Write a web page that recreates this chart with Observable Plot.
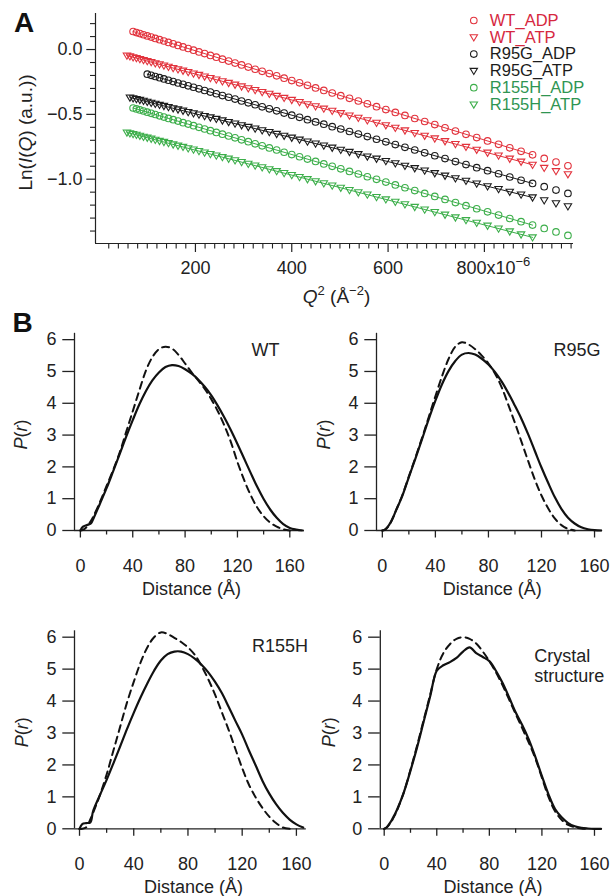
<!DOCTYPE html>
<html><head><meta charset="utf-8">
<script src="https://cdn.jsdelivr.net/npm/d3@7"></script>
<script src="https://cdn.jsdelivr.net/npm/@observablehq/plot@0.6"></script>
<style>
body{margin:0;background:#fff}
#fig{position:relative;width:610px;height:896px;background:#fff;overflow:hidden}
#fig svg{position:absolute}
</style>
</head><body><div id="fig"></div>
<script>
// ---------- Panel A data: Guinier plot ----------
const q2 = [57.76,64,70.56,77.44,84.64,92.16,100,108.16,116.64,125.44,134.56,144,153.76,163.84,174.24,184.96,196,207.36,219.04,231.04,243.36,256,268.96,282.24,295.84,309.76,324,338.56,353.44,368.64,384.16,400,416.16,432.64,449.44,466.56,484,501.76,519.84,538.24,556.96,576,595.36,615.04,635.04,655.36,676,696.96,718.24,739.84,761.76,784,806.56,829.44,852.64,876.16,900,924.16,948.64,973.44];
const wtADP = [null,null,0.139,0.131,0.123,0.114,0.105,0.096,0.086,0.076,0.066,0.055,0.044,0.032,0.020,0.008,-0.005,-0.018,-0.031,-0.045,-0.059,-0.074,-0.089,-0.104,-0.119,-0.135,-0.152,-0.168,-0.185,-0.203,-0.221,-0.239,-0.257,-0.276,-0.296,-0.315,-0.335,-0.356,-0.376,-0.397,-0.419,-0.441,-0.463,-0.485,-0.508,-0.532,-0.555,-0.579,-0.604,-0.629,-0.654,-0.679,-0.705,-0.731,-0.758,-0.785,-0.812,-0.840,-0.868,-0.897];
const wtATP = [-0.047,-0.053,-0.060,-0.066,-0.074,-0.081,-0.089,-0.097,-0.106,-0.114,-0.124,-0.133,-0.143,-0.153,-0.163,-0.174,-0.185,-0.196,-0.208,-0.220,-0.232,-0.245,-0.258,-0.271,-0.285,-0.299,-0.313,-0.328,-0.342,-0.358,-0.373,-0.389,-0.405,-0.422,-0.438,-0.456,-0.473,-0.491,-0.509,-0.527,-0.546,-0.565,-0.584,-0.604,-0.624,-0.644,-0.665,-0.686,-0.707,-0.729,-0.751,-0.773,-0.796,-0.818,-0.842,-0.865,-0.889,-0.913,-0.938,-0.962];
const r95gADP = [null,null,null,null,null,null,-0.190,-0.199,-0.208,-0.217,-0.227,-0.237,-0.247,-0.258,-0.268,-0.280,-0.291,-0.303,-0.316,-0.328,-0.341,-0.355,-0.368,-0.382,-0.397,-0.411,-0.426,-0.442,-0.457,-0.473,-0.490,-0.506,-0.523,-0.541,-0.558,-0.576,-0.595,-0.613,-0.632,-0.652,-0.671,-0.692,-0.712,-0.733,-0.754,-0.775,-0.797,-0.819,-0.841,-0.864,-0.887,-0.911,-0.934,-0.958,-0.983,-1.008,-1.033,-1.058,-1.084,-1.110];
const r95gATP = [null,-0.370,-0.376,-0.382,-0.389,-0.396,-0.403,-0.411,-0.419,-0.427,-0.435,-0.444,-0.453,-0.462,-0.472,-0.482,-0.492,-0.502,-0.513,-0.524,-0.535,-0.547,-0.559,-0.571,-0.584,-0.597,-0.610,-0.623,-0.637,-0.651,-0.665,-0.680,-0.695,-0.710,-0.725,-0.741,-0.757,-0.774,-0.790,-0.807,-0.825,-0.842,-0.860,-0.878,-0.897,-0.915,-0.934,-0.954,-0.973,-0.993,-1.013,-1.034,-1.055,-1.076,-1.097,-1.119,-1.141,-1.163,-1.186,-1.209];
const r155hADP = [null,null,-0.451,-0.458,-0.466,-0.474,-0.483,-0.492,-0.501,-0.511,-0.521,-0.531,-0.541,-0.552,-0.564,-0.575,-0.587,-0.600,-0.613,-0.626,-0.639,-0.653,-0.667,-0.681,-0.696,-0.711,-0.727,-0.743,-0.759,-0.775,-0.792,-0.810,-0.827,-0.845,-0.863,-0.882,-0.901,-0.920,-0.940,-0.960,-0.981,-1.001,-1.022,-1.044,-1.066,-1.088,-1.110,-1.133,-1.156,-1.180,-1.204,-1.228,-1.252,-1.277,-1.303,-1.328,-1.354,-1.380,-1.407,-1.434];
const r155hATP = [-0.640,-0.646,-0.652,-0.658,-0.665,-0.673,-0.680,-0.688,-0.696,-0.705,-0.713,-0.722,-0.732,-0.742,-0.751,-0.762,-0.772,-0.783,-0.795,-0.806,-0.818,-0.830,-0.842,-0.855,-0.868,-0.882,-0.895,-0.909,-0.924,-0.938,-0.953,-0.968,-0.984,-1.000,-1.016,-1.032,-1.049,-1.066,-1.084,-1.101,-1.119,-1.138,-1.156,-1.175,-1.194,-1.214,-1.234,-1.254,-1.274,-1.295,-1.316,-1.337,-1.359,-1.381,-1.403,-1.426,-1.449,null,null,null];
const seriesNames = ["WT_ADP","WT_ATP","R95G_ADP","R95G_ATP","R155H_ADP","R155H_ATP"];
const fitMaxQ2 = 900;
const xTicksA = [200,400,600,800];
const xMinorA = [20,40,60,80,100,120,140,160,180,220,240,260,280,300,320,340,360,380,420,440,460,480,500,520,540,560,580,620,640,660,680,700,720,740,760,780,820,840,860,880,900,920,940,960,980];
const yTicksA = [0,-0.5,-1];
const yMinorA = [0.2,0.1,-0.1,-0.2,-0.3,-0.4,-0.6,-0.7,-0.8,-0.9,-1.1,-1.2,-1.3,-1.4];
const xDomA = [-7.5, 985];
const yDomA = [-1.496, 0.278];

// ---------- Panel B data: P(r) ----------
const rB = [0,2,5,8,10,15,20,25,30,35,40,45,50,55,60,65,70,75,80,85,90,95,100,105,110,115,120,125,130,135,140,145,150,155,160,165,170];
const wtExp   = [0,0.12,0.17,0.22,0.38,0.85,1.33,1.86,2.40,2.95,3.47,3.96,4.38,4.72,4.97,5.14,5.20,5.17,5.07,4.93,4.75,4.52,4.25,3.92,3.55,3.15,2.72,2.27,1.82,1.38,0.99,0.66,0.40,0.20,0.08,0.03,0];
const wtModel = [0,0.02,0.12,0.30,0.45,0.90,1.40,1.90,2.45,3.10,3.75,4.40,5.02,5.45,5.70,5.78,5.72,5.52,5.25,4.97,4.72,4.45,4.13,3.75,3.30,2.78,2.15,1.60,1.12,0.73,0.45,0.25,0.12,0.04,0,null,null];
const r95gExp   = [0,0.03,0.17,0.40,0.60,1.08,1.68,2.27,2.88,3.50,4.08,4.60,5.02,5.33,5.53,5.58,5.53,5.40,5.22,4.98,4.68,4.32,3.92,3.50,3.02,2.50,1.98,1.50,1.05,0.68,0.40,0.22,0.10,0.04,0.01,0,null];
const r95gModel = [0,0.03,0.15,0.40,0.60,1.10,1.70,2.30,2.92,3.57,4.22,4.85,5.40,5.78,5.92,5.85,5.70,5.50,5.25,4.93,4.50,3.95,3.38,2.78,2.18,1.60,1.10,0.70,0.38,0.17,0.05,0,null,null,null,null,null];
const r155hExp   = [0,0.15,0.18,0.20,0.55,1.05,1.53,2.05,2.58,3.12,3.63,4.11,4.55,4.95,5.27,5.47,5.55,5.55,5.47,5.33,5.14,4.90,4.60,4.25,3.82,3.38,2.95,2.45,1.98,1.50,1.10,0.77,0.50,0.29,0.14,0.04,null];
const r155hModel = [0,0,0.05,0.30,0.50,1.05,1.70,2.45,3.20,3.95,4.60,5.20,5.68,6.00,6.15,6.10,5.98,5.85,5.68,5.45,5.10,4.68,4.20,3.65,3.10,2.50,1.90,1.38,0.98,0.65,0.38,0.18,0.04,0,null,null,null];
const crystalExp   = [0,0.05,0.22,0.45,0.62,1.15,1.82,2.55,3.35,4.15,4.95,5.12,5.22,5.35,5.55,5.68,5.50,5.38,5.25,4.95,4.57,4.12,3.65,3.25,2.80,2.25,1.65,1.08,0.62,0.36,0.18,0.08,0.03,0.01,0,0,null];
const crystalModel = [0,0.05,0.20,0.42,0.60,1.15,1.85,2.60,3.40,4.20,5.00,5.50,5.78,5.95,6.00,5.95,5.80,5.55,5.25,4.90,4.50,4.05,3.60,3.15,2.70,2.20,1.60,1.00,0.55,0.28,0.12,0.05,0.01,0,null,null,null];
const panelNames = ["WT","R95G","R155H","Crystal\nstructure"];
const xTicksB = [0,40,80,120,160];
const xMinorB = [20,60,100,140];
const yTicksB = [0,1,2,3,4,5,6];
const yDomB = [0, 6.2];

// ---------- styling ----------
const RED = "#e2323c", RED_T = "#d6283f";
const GREEN = "#3cae4a", GREEN_T = "#2f9552";
const BLACK = "#1c1c1c";
const FONT = "'Liberation Sans', Arial, Helvetica, sans-serif";
const INK = "#222";
const triDown = {
  draw(ctx, size) {
    const r = Math.sqrt(size / Math.PI);
    ctx.moveTo(-r * 1.12, -r * 0.78);
    ctx.lineTo(r * 1.12, -r * 0.78);
    ctx.lineTo(0, r * 1.1);
    ctx.closePath();
  }
};
const seriesValues = [wtADP, wtATP, r95gADP, r95gATP, r155hADP, r155hATP];
const seriesColor = [RED, RED, BLACK, BLACK, GREEN, GREEN];
const seriesTextColor = [RED_T, RED_T, BLACK, BLACK, GREEN_T, GREEN_T];
const seriesSymbol = ["circle", triDown, "circle", triDown, "circle", triDown];

const NS = "http://www.w3.org/2000/svg";
function rich(svg, plain, parts, extra) {
  svg.querySelectorAll("text").forEach(t => {
    if (t.textContent !== plain) return;
    while (t.firstChild) t.removeChild(t.firstChild);
    let shift = 0;
    parts.forEach(p => {
      const ts = document.createElementNS(NS, "tspan");
      ts.textContent = p.t;
      if (p.i) ts.setAttribute("font-style", "italic");
      if (p.fs) ts.setAttribute("font-size", p.fs);
      const target = p.sup ? -p.sup : 0;
      if (target !== shift) { ts.setAttribute("dy", (target - shift) + "px"); shift = target; }
      t.appendChild(ts);
    });
    if (extra) extra(t);
  });
}

const fig = document.getElementById("fig");

// ---------- Panel A ----------
{
  const marks = [];
  seriesNames.forEach((name, k) => {
    const rows = q2.map((q, i) => ({q, y: seriesValues[k][i]})).filter(d => d.y != null);
    marks.push(Plot.dot(rows, {x: "q", y: "y", r: 3.3, stroke: seriesColor[k], strokeWidth: 1.1, fill: "none", symbol: seriesSymbol[k]}));
    marks.push(Plot.linearRegressionY(rows.filter(d => d.q <= fitMaxQ2), {x: "q", y: "y", stroke: seriesColor[k], strokeWidth: 1, ci: 0}));
    marks.push(Plot.dot([name], {frameAnchor: "top-right", dx: -99.7, dy: 7 + k * 16.8, r: 3.3, stroke: seriesColor[k], strokeWidth: 1.1, fill: "none", symbol: seriesSymbol[k]}));
    marks.push(Plot.text([name], {frameAnchor: "top-right", dx: -83.7, dy: 7 + k * 16.8, text: d => d, fill: seriesTextColor[k], textAnchor: "start", lineAnchor: "middle", fontSize: 16.5}));
  });
  const svg = Plot.plot({
    width: 610, height: 310,
    marginLeft: 95, marginRight: 37, marginTop: 13, marginBottom: 67,
    style: {fontFamily: FONT, fontSize: "18px", color: INK, background: "transparent", overflow: "visible"},
    x: {domain: xDomA},
    y: {domain: yDomA},
    marks: [
      Plot.ruleX([xDomA[0]], {stroke: INK, strokeWidth: 1.2}),
      Plot.ruleY([yDomA[0]], {stroke: INK, strokeWidth: 1.2}),
      Plot.axisX(xMinorA, {tickSize: 5.5, tickFormat: () => "", label: null, strokeWidth: 1.1}),
      Plot.axisX(xTicksA, {tickSize: 9, tickPadding: 9, label: null, strokeWidth: 1.2, tickFormat: d => d === 800 ? "800x10−6" : String(d)}),
      Plot.axisY(yMinorA, {tickSize: 5, tickFormat: () => "", label: null, strokeWidth: 1.1}),
      Plot.axisY(yTicksA, {tickSize: 8.7, tickPadding: 4.3, label: null, strokeWidth: 1.2, tickFormat: d3.format(".1f")}),
      ...marks,
      Plot.text(["A"], {frameAnchor: "top-left", dx: -71.5, dy: 10, text: d => d, textAnchor: "middle", lineAnchor: "middle", fontSize: 28, fontWeight: "bold", fill: "#111"}),
      Plot.text(["Ln(I(Q) (a.u.))"], {frameAnchor: "left", rotate: -90, dx: -70, dy: 4, text: d => d, textAnchor: "middle", lineAnchor: "middle", fontSize: 19}),
      Plot.text(["Q2 (Å−2)"], {frameAnchor: "bottom", dx: 2, dy: 53, text: d => d, textAnchor: "middle", lineAnchor: "middle", fontSize: 19})
    ]
  });
  svg.style.left = "0px"; svg.style.top = "0px";
  rich(svg, "Ln(I(Q) (a.u.))", [{t: "Ln("}, {t: "I", i: 1}, {t: "("}, {t: "Q", i: 1}, {t: ") (a.u.))"}]);
  rich(svg, "Q2 (Å−2)", [{t: "Q", i: 1}, {t: "2", sup: 8, fs: "13px"}, {t: " (Å"}, {t: "−2", sup: 8, fs: "13px"}, {t: ")"}]);
  rich(svg, "800x10−6", [{t: "800x10"}, {t: "−6", sup: 8, fs: "13px"}], t => t.setAttribute("x", "9"));
  fig.appendChild(svg);
}

// ---------- Panel B ----------
const panelCfg = [
  {exp: wtExp, model: wtModel, left: 0, top: 300, w: 305, h: 300, mL: 74, mR: 3, mT: 32.8, mB: 70, xDom: [-4.5, 169.7], titleDx: -37, titleDy: 16.7, anchor: "middle", pdx: -53, pdy: 2.5, ddx: 3, ddy: 59, tag: "B"},
  {exp: r95gExp, model: r95gModel, left: 305, top: 300, w: 305, h: 300, mL: 71, mR: 8, mT: 32.8, mB: 70, xDom: [-4.4, 166], titleDx: -25.4, titleDy: 16.7, anchor: "middle", pdx: -52.7, pdy: 2.5, ddx: 2.7, ddy: 59},
  {exp: r155hExp, model: r155hModel, left: 0, top: 600, w: 310, h: 296, mL: 74, mR: 4.2, mT: 30.3, mB: 67.7, xDom: [-3.7, 167.3], titleDx: -26.3, titleDy: 14.7, anchor: "middle", pdx: -52.6, pdy: 2.4, ddx: 3, ddy: 58.4},
  {exp: crystalExp, model: crystalModel, left: 305, top: 600, w: 305, h: 296, mL: 74.8, mR: 8, mT: 30.3, mB: 67.7, xDom: [-2.97, 166.1], titleDx: -68.3, titleDy: 34.7, anchor: "start", pdx: -50.8, pdy: 2.4, ddx: 1.6, ddy: 58.4}
];
panelCfg.forEach((c, k) => {
  const expRows = rB.map((r, i) => ({r, p: c.exp[i]})).filter(d => d.p != null);
  const modRows = rB.map((r, i) => ({r, p: c.model[i]})).filter(d => d.p != null);
  const marks = [
    Plot.ruleX([c.xDom[0]], {stroke: INK, strokeWidth: 1.3}),
    Plot.ruleY([yDomB[0]], {stroke: INK, strokeWidth: 1.3}),
    Plot.axisX(xMinorB, {tickSize: 4.5, tickFormat: () => "", label: null, strokeWidth: 1.3}),
    Plot.axisX(xTicksB, {tickSize: 7.5, tickPadding: 21, label: null, strokeWidth: 1.3}),
    Plot.axisY(yTicksB, {tickSize: 11.7, tickPadding: 6.4, label: null, strokeWidth: 1.3}),
    Plot.line(modRows, {x: "r", y: "p", stroke: "#111", strokeWidth: 2, strokeDasharray: "7,5", curve: "catmull-rom"}),
    Plot.line(expRows, {x: "r", y: "p", stroke: "#111", strokeWidth: 2.2, curve: "catmull-rom"}),
    Plot.text([panelNames[k]], {frameAnchor: "top-right", dx: c.titleDx, dy: c.titleDy, text: d => d, textAnchor: c.anchor, lineAnchor: "middle", fontSize: 18, lineHeight: 1.1}),
    Plot.text(["P(r)"], {frameAnchor: "left", rotate: -90, dx: c.pdx, dy: c.pdy, text: d => d, textAnchor: "middle", lineAnchor: "middle", fontSize: 18}),
    Plot.text(["Distance (Å)"], {frameAnchor: "bottom", dx: c.ddx, dy: c.ddy, text: d => d, textAnchor: "middle", lineAnchor: "middle", fontSize: 18})
  ];
  if (c.tag) marks.push(Plot.text([c.tag], {frameAnchor: "top-left", dx: -52, dy: -9.8, text: d => d, textAnchor: "middle", lineAnchor: "middle", fontSize: 28, fontWeight: "bold", fill: "#111"}));
  const svg = Plot.plot({
    width: c.w, height: c.h,
    marginLeft: c.mL, marginRight: c.mR, marginTop: c.mT, marginBottom: c.mB,
    style: {fontFamily: FONT, fontSize: "18px", color: INK, background: "transparent", overflow: "visible"},
    x: {domain: c.xDom},
    y: {domain: yDomB},
    marks
  });
  svg.style.left = c.left + "px"; svg.style.top = c.top + "px";
  rich(svg, "P(r)", [{t: "P", i: 1}, {t: "("}, {t: "r", i: 1}, {t: ")"}]);
  fig.appendChild(svg);
});
</script></body></html>
